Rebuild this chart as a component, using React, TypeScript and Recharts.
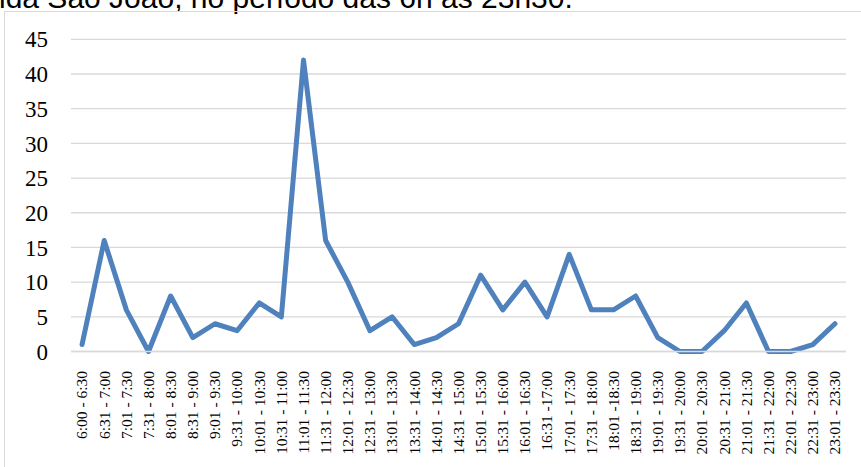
import { CartesianGrid, Line, LineChart, XAxis, YAxis } from "recharts";

// half-hour windows, 6:00 through 23:30
const periods = [
  "6:00 - 6:30", "6:31 - 7:00", "7:01 - 7:30", "7:31 - 8:00", "8:01 - 8:30",
  "8:31 - 9:00", "9:01 - 9:30", "9:31 - 10:00", "10:01 - 10:30", "10:31 - 11:00",
  "11:01 - 11:30", "11:31 - 12:00", "12:01 - 12:30", "12:31 - 13:00", "13:01 - 13:30",
  "13:31 - 14:00", "14:01 - 14:30", "14:31 - 15:00", "15:01 - 15:30", "15:31 - 16:00",
  "16:01 - 16:30", "16:31 -17:00", "17:01 - 17:30", "17:31 - 18:00", "18:01 -18:30",
  "18:31 - 19:00", "19:01 - 19:30", "19:31 - 20:00", "20:01 - 20:30", "20:31 - 21:00",
  "21:01 - 21:30", "21:31 - 22:00", "22:01 - 22:30", "22:31 - 23:00", "23:01 - 23:30",
];

const counts = [
  1, 16, 6, 0, 8, 2, 4, 3, 7, 5, 42, 16, 10, 3, 5, 1, 2, 4, 11, 6,
  10, 5, 14, 6, 6, 8, 2, 0, 0, 3, 7, 0, 0, 1, 4,
];

const yTicks = [0, 5, 10, 15, 20, 25, 30, 35, 40, 45];

const rows = periods.map((period, i) => ({ period, count: counts[i] }));

const SERIF = '"Liberation Serif", "DejaVu Serif", serif';

function PeriodTick({ x, y, payload }: any) {
  return (
    <text
      x={x}
      y={y + 11.5}
      dy="0.35em"
      transform={`rotate(-90, ${x}, ${y + 11.5})`}
      textAnchor="end"
      fontFamily={SERIF}
      fontSize={15.5}
      fill="#000"
    >
      {payload.value}
    </text>
  );
}

export default function App() {
  return (
    <div
      style={{
        position: "absolute",
        left: 0,
        top: 0,
        width: 861,
        height: 467,
        overflow: "hidden",
        background: "#fff",
      }}
    >
      <svg width={861} height={30} style={{ position: "absolute", left: 0, top: 0 }}>
        <text x={-1} y={8} fontFamily='"Liberation Sans", Arial, sans-serif' fontSize={30} fill="#000">
          ida São João, no período das 6h às 23h30.
        </text>
      </svg>
      <div
        style={{
          position: "absolute",
          left: 4,
          top: 11,
          width: 900,
          height: 500,
          border: "1px solid #d9d9d9",
        }}
      />
      <LineChart
        width={861}
        height={467}
        data={rows}
        margin={{ top: 39.3, right: 15, bottom: 0, left: 0 }}
        style={{ position: "absolute", left: 0, top: 0 }}
      >
        <CartesianGrid vertical={false} stroke="#d9d9d9" strokeWidth={1.3} />
        <XAxis
          dataKey="period"
          scale="band"
          interval={0}
          height={115.5}
          tickLine={false}
          axisLine={{ stroke: "#d9d9d9", strokeWidth: 1.3 }}
          tick={<PeriodTick />}
        />
        <YAxis
          domain={[0, 45]}
          ticks={yTicks}
          width={71}
          axisLine={false}
          tickLine={false}
          tickSize={0}
          tickMargin={23}
          tick={{ fontFamily: SERIF, fontSize: 23, fill: "#000" }}
        />
        <Line
          type="linear"
          dataKey="count"
          stroke="#4f81bd"
          strokeWidth={5}
          strokeLinejoin="round"
          strokeLinecap="round"
          dot={false}
          isAnimationActive={false}
        />
      </LineChart>
    </div>
  );
}
